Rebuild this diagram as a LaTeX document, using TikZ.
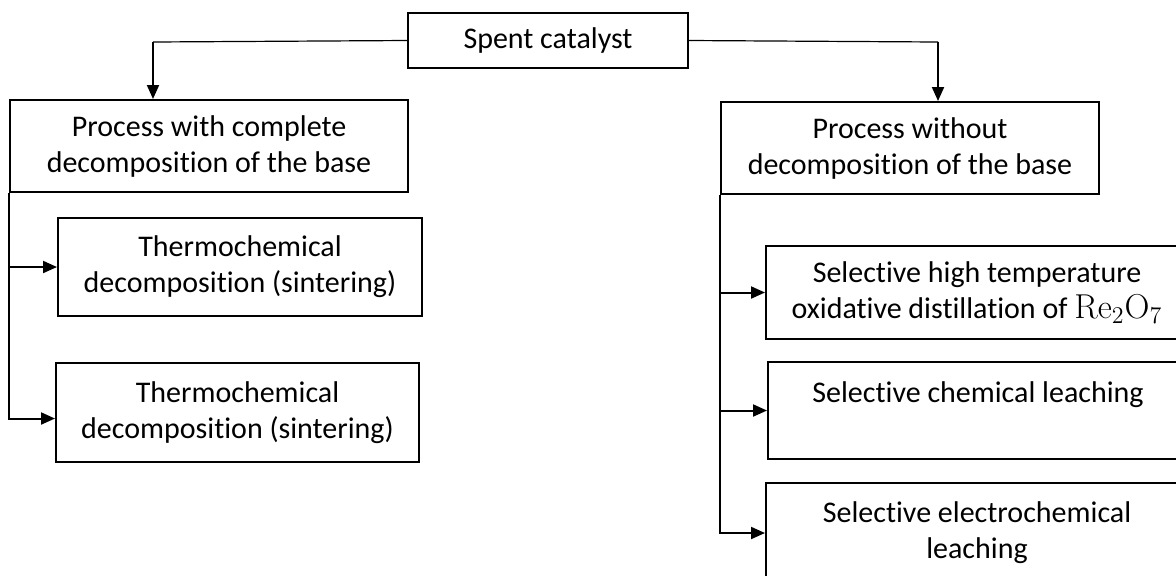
\documentclass[tikz,border=0pt]{standalone}
\usepackage[no-math]{fontspec}
\setmainfont{Carlito}[Ligatures=NoCommon]
\usetikzlibrary{arrows.meta}
\begin{document}
\begin{tikzpicture}[x=0.5pt,y=-0.5pt,
  box/.style={draw,line width=1pt,align=center,inner sep=2pt,font=\fontsize{15}{18}\selectfont},
  link/.style={line width=0.6pt},
  arr/.style={line width=1pt,-{Triangle[length=7pt,width=6pt]}}]

  \clip (0,0) rectangle (1176,575);

  \node[box,minimum width=140pt,minimum height=27.5pt] (cat) at (548,40.5) {Spent catalyst};
  \node[box,minimum width=199pt,minimum height=46pt] (with) at (209,146)
    {Process with complete\\decomposition of the base};
  \node[box,minimum width=189pt,minimum height=46pt] (without) at (910,148)
    {Process without\\decomposition of the base};

  \node[box,minimum width=182pt,minimum height=49pt] (th1) at (240,267)
    {Thermochemical\\decomposition (sintering)};
  \node[box,minimum width=181.5pt,minimum height=49.5pt] (th2) at (237.5,412.5)
    {Thermochemical\\decomposition (sintering)};

  \node[box,minimum width=211pt,minimum height=46.5pt] (sel1) at (977,292.5)
    {Selective high temperature\\oxidative distillation of {\fontsize{17}{18}\selectfont$\mathrm{Re_2O_7}$}};
  \node[box,minimum width=210pt,minimum height=48.5pt] (sel2) at (978,410.5)
    {Selective chemical leaching\\\mbox{}};
  \node[box,minimum width=211pt,minimum height=50pt] (sel3) at (977,533)
    {Selective electrochemical\\leaching};

  \coordinate (lbend) at (153,42);
  \coordinate (rbend) at (938,42);

  % top branches
  \draw[link] (cat.west) -- (lbend);
  \draw[arr] (lbend) -- (lbend |- with.north);
  \draw[link] (cat.east) -- (rbend);
  \draw[arr] (rbend) -- (rbend |- without.north);

  % left trunk
  \draw[arr] (with.south west) |- ([yshift=-3pt]th2.west);
  \draw[arr] (with.south west |- th1.west) -- (th1.west);

  % right trunk
  \draw[arr] (without.south west) |- (sel3.west);
  \draw[arr] (without.south west |- sel1.west) -- (sel1.west);
  \draw[arr] (without.south west |- sel2.west) -- (sel2.west);
\end{tikzpicture}
\end{document}
